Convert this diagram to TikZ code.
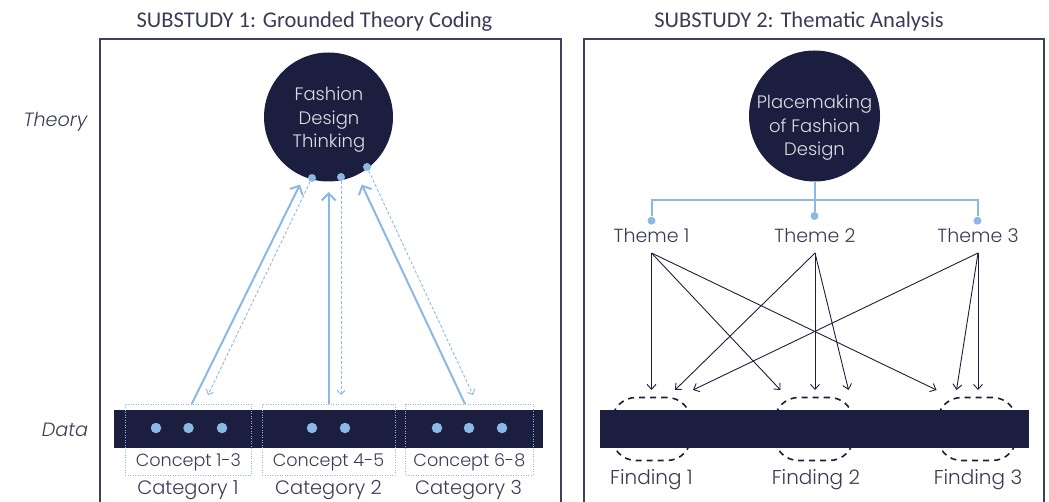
\documentclass[tikz,border=0pt]{standalone}
\usepackage{fontspec}
\setmainfont{Poppins}[UprightFont=* Light, ItalicFont=* Light Italic]
\newfontfamily\titlefont{Carlito}
\usetikzlibrary{arrows.meta}
\definecolor{navy}{HTML}{1C1E3F}
\definecolor{lblue}{HTML}{8CB8E4}
\definecolor{txt}{HTML}{3A3C56}
\definecolor{framec}{HTML}{3E4060}
\definecolor{ctext}{HTML}{DCDDE6}
\begin{document}
\begin{tikzpicture}[x=1pt,y=-1pt,
  frameline/.style={draw=framec, line width=1.3pt},
  titletext/.style={font=\titlefont\fontsize{22.5}{26}\selectfont, text=txt, inner sep=0pt},
  sidelabel/.style={font=\itshape\fontsize{19.2}{22}\selectfont, text=txt, inner sep=0pt},
  bigcirc/.style={circle, fill=navy, inner sep=0pt},
  circtext/.style={text=ctext, align=center, inner sep=0pt, font=\fontsize{18}{23.5}\selectfont},
  bluedot/.style={circle, fill=lblue, inner sep=0pt, minimum size=8pt},
  bardot/.style={circle, fill=lblue, inner sep=0pt, minimum size=10.5pt},
  databar/.style={rectangle, fill=navy, inner sep=0pt, minimum height=38pt, minimum width=429pt},
  dotbox/.style={rectangle, draw=lblue, line width=0.9pt, dash pattern=on 1pt off 1.5pt, inner sep=0pt},
  label/.style={font=\fontsize{18.5}{22}\selectfont, text=txt, inner sep=0pt},
  solidarr/.style={draw=lblue, line width=2pt, -{Straight Barb[length=7pt,width=14pt]}},
  dasharr/.style={draw=lblue, line width=0.9pt, dash pattern=on 3pt off 2pt, -{Straight Barb[length=4pt,width=8pt]}},
  treeline/.style={draw=lblue, line width=2pt},
  themearr/.style={draw=navy, line width=0.9pt, -{Straight Barb[length=5pt,width=9pt]}},
  findbox/.style={rectangle, rounded corners=24pt, draw=navy, line width=1.6pt, dash pattern=on 6pt off 5pt, minimum width=79pt, minimum height=63pt, inner sep=0pt}
]
\useasboundingbox (0,0) rectangle (1049,502);

% titles
\node[titletext] (t1) at (314.5,22) {SUBSTUDY 1: Grounded Theory Coding};
\node[titletext] (t2) at (799,22) {SUBSTUDY 2: Thematic Analysis};

% frames
\draw[frameline] (100,503) -- (100,39) -- (561,39) -- (561,503);
\draw[frameline] (584,503) -- (584,39) -- (1044,39) -- (1044,503);

% side labels
\node[sidelabel] (theory) at (55.5,122) {Theory};
\node[sidelabel] (data) at (65,430) {Data};

% ---------- Substudy 1 ----------
\node[bigcirc, minimum size=129pt] (fdt) at (328.5,117) {};
\node[circtext] (fdtt) at (329,120) {Fashion\\Design\\Thinking};
\node[bluedot] (d1) at (312,178) {};
\node[bluedot] (d2) at (341,177) {};
\node[bluedot] (d3) at (367,167) {};

\node[databar] (bar1) at (328.5,429) {};
\node[bardot] at (156,428) {};
\node[bardot] at (188.5,428) {};
\node[bardot] at (222,428) {};
\node[bardot] at (312,428) {};
\node[bardot] at (345,428) {};
\node[bardot] at (437,428) {};
\node[bardot] at (469,428) {};
\node[bardot] at (502,428) {};

\node[dotbox, minimum width=126.7pt, minimum height=71pt] (c1) at (188.4,439.5) {};
\node[dotbox, minimum width=133pt, minimum height=71pt] (c2) at (328.5,439.5) {};
\node[dotbox, minimum width=127.3pt, minimum height=71pt] (c3) at (469.4,439.5) {};

\node[label, font=\fontsize{17.6}{22}\selectfont] (k1) at (188.4,462) {Concept 1-3};
\node[label, font=\fontsize{17.6}{22}\selectfont] (k2) at (328.5,462) {Concept 4-5};
\node[label, font=\fontsize{17.6}{22}\selectfont] (k3) at (469.4,462) {Concept 6-8};
\node[label, font=\fontsize{19.4}{22}\selectfont] (g1) at (188,490) {Category 1};
\node[label, font=\fontsize{19.4}{22}\selectfont] (g2) at (328.5,490) {Category 2};
\node[label, font=\fontsize{19.4}{22}\selectfont] (g3) at (468.5,490) {Category 3};

\coordinate (s1) at (191.7,404);
\coordinate (s2) at (328.7,404);
\coordinate (s3) at (465,404);
\coordinate (e1) at (300,184.5);
\coordinate (e2) at (328.7,192);
\coordinate (e3) at (361.7,184.5);
\draw[solidarr] (s1) -- (e1);
\draw[solidarr] (s2) -- (e2);
\draw[solidarr] (s3) -- (e3);

\coordinate (f1) at (208,395);
\coordinate (f2) at (341,395);
\coordinate (f3) at (473,395);
\draw[dasharr] (d1) -- (f1);
\draw[dasharr] (d2) -- (f2);
\draw[dasharr] (d3) -- (f3);

% ---------- Substudy 2 ----------
\node[bigcirc, minimum size=131pt] (pfd) at (814.5,116) {};
\node[circtext] (pfdt) at (814.5,128) {Placemaking\\of Fashion\\Design};

\node[findbox] (o1) at (651.5,429) {};
\node[findbox] (o2) at (814,429) {};
\node[findbox] (o3) at (977,429) {};
\node[databar] (bar2) at (814.5,429) {};

\node[bluedot] (td1) at (651.5,220.7) {};
\node[bluedot] (td2) at (814.5,216) {};
\node[bluedot] (td3) at (977.5,220.7) {};
\coordinate (h1) at (651.5,200);
\coordinate (h3) at (977.5,200);
\draw[treeline] (pfd.south) -- (td2);
\draw[treeline] (td1) -- (h1) -- (h3) -- (td3);

\node[label, font=\fontsize{19}{22}\selectfont] (th1) at (651.5,235.5) {Theme 1};
\node[label, font=\fontsize{19}{22}\selectfont] (th2) at (815,235.5) {Theme 2};
\node[label, font=\fontsize{19}{22}\selectfont] (th3) at (978,235.5) {Theme 3};

\coordinate (a1) at (651.5,253);
\coordinate (a2) at (815,253);
\coordinate (a3) at (978,253);
\coordinate (p11) at (651.5,390);
\coordinate (p12) at (780.5,390);
\coordinate (p13) at (936.5,390);
\coordinate (p21) at (675,390);
\coordinate (p22) at (815,390);
\coordinate (p23) at (848.5,390);
\coordinate (p31) at (693,390);
\coordinate (p32) at (956.5,390);
\coordinate (p33) at (978,390);
\foreach \t in {11,12,13} \draw[themearr] (a1) -- (p\t);
\foreach \t in {21,22,23} \draw[themearr] (a2) -- (p\t);
\foreach \t in {31,32,33} \draw[themearr] (a3) -- (p\t);

\node[label, font=\fontsize{20}{22}\selectfont] (n1) at (651.5,480) {Finding 1};
\node[label, font=\fontsize{20}{22}\selectfont] (n2) at (816,480) {Finding 2};
\node[label, font=\fontsize{20}{22}\selectfont] (n3) at (978,480) {Finding 3};
\end{tikzpicture}
\end{document}
